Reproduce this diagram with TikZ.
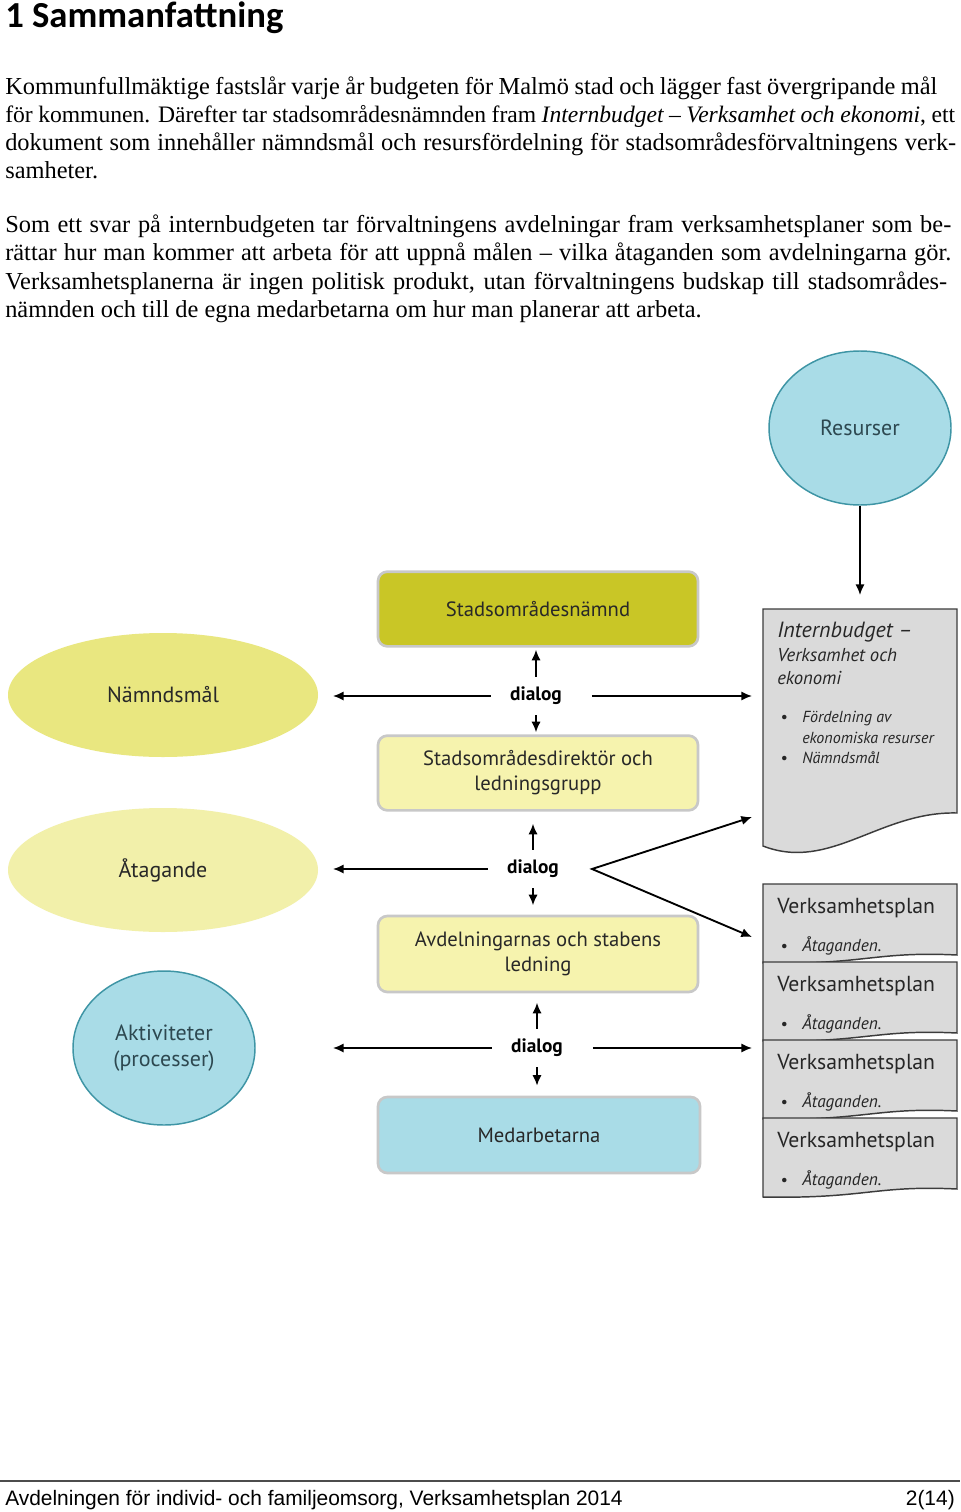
\documentclass[tikz,border=0pt]{standalone}
\usepackage{fontspec}
\setmainfont{Liberation Serif}
\newfontfamily\diafont{PT Sans}
\newfontfamily\headfont{Carlito}
\newfontfamily\footfont{Liberation Sans}
\usepackage{xcolor}
\usepackage{tikz}
\usetikzlibrary{shapes.geometric,arrows.meta}

\definecolor{olivebox}{RGB}{201,198,38}
\definecolor{paleyellow}{RGB}{246,243,174}
\definecolor{goalyellow}{RGB}{233,231,128}
\definecolor{taskyellow}{RGB}{242,240,170}
\definecolor{lightblue}{RGB}{169,220,231}
\definecolor{tealline}{RGB}{62,149,165}
\definecolor{boxgray}{RGB}{200,200,200}
\definecolor{docgray}{RGB}{218,218,218}
\definecolor{docline}{RGB}{60,60,60}
\definecolor{labeltext}{RGB}{40,40,40}
\definecolor{bluetext}{RGB}{45,72,80}

\newcommand\jline[2]{\hbox to #1{#2}}

\begin{document}
\begin{tikzpicture}[x=0.75pt,y=0.75pt,yscale=-1,xscale=1,
  txt/.style={anchor=base west,inner sep=0pt},
  body/.style={txt,font=\fontsize{18.3}{22}\selectfont},
  box/.style={rectangle,rounded corners=7pt,draw=boxgray,line width=2pt,minimum width=240pt,minimum height=56pt,align=center,text=labeltext,font=\diafont\fontsize{15.5}{18.75}\selectfont},
  oval/.style={ellipse,align=center,text=labeltext,font=\diafont\fontsize{16.5}{20}\selectfont},
  dlg/.style={inner sep=0pt,minimum width=67.5pt,minimum height=28.5pt,font=\diafont\bfseries\fontsize{14.5}{17}\selectfont},
  arw/.style={line width=1.4pt,-{Latex[length=8pt,width=7pt]}},
  docs/.style={fill=docgray,draw=docline,line width=1.1pt},
  doctxt/.style={txt,text=black!85,font=\diafont\itshape\fontsize{12}{14}\selectfont}
]
\useasboundingbox (0,0) rectangle (960,1512);
\fill [white] (0,0) rectangle (960,1512);

% heading and text
\draw (5,28) node (head) [txt] {\headfont\bfseries\fontsize{27.5}{32}\selectfont 1 Sammanfattning};
\draw (5,95) node (pa1) [body] {\jline{699pt}{Kommunfullmäktige fastslår varje år budgeten för Malmö stad och lägger fast övergripande mål}};
\draw (5,123) node (pa2) [body,font=\fontsize{17.7}{22}\selectfont] {\jline{712.5pt}{för kommunen. Därefter tar stadsområdesnämnden fram \textit{Internbudget – Verksamhet och ekonomi}, ett}};
\draw (5,151) node (pa3) [body] {\jline{713.25pt}{dokument som innehåller nämndsmål och resursfördelning för stadsområdesförvaltningens verk-}};
\draw (5,179) node (pa4) [body] {samheter.};
\draw (5,233) node (pb1) [body] {\jline{709.5pt}{Som ett svar på internbudgeten tar förvaltningens avdelningar fram verksamhetsplaner som be-}};
\draw (5,261) node (pb2) [body] {\jline{709.5pt}{rättar hur man kommer att arbeta för att uppnå målen – vilka åtaganden som avdelningarna gör.}};
\draw (5,289) node (pb3) [body] {\jline{706.5pt}{Verksamhetsplanerna är ingen politisk produkt, utan förvaltningens budskap till stadsområdes-}};
\draw (5,317) node (pb4) [body] {nämnden och till de egna medarbetarna om hur man planerar att arbeta.};

% middle column
\draw (538,609) node (nmnd) [box,fill=olivebox] {Stadsområdesnämnd};
\draw (538,773) node (ledgrp) [box,fill=paleyellow] {Stadsområdesdirektör och\\ledningsgrupp};
\draw (538,954) node (avdled) [box,fill=paleyellow,minimum height=57pt] {Avdelningarnas och stabens\\ledning};
\draw (539,1135) node (medarb) [box,fill=lightblue,minimum width=241.5pt,minimum height=57pt] {Medarbetarna};

\draw (536,696) node (dlgA) [dlg] {dialog};
\draw (533,869) node (dlgB) [dlg] {dialog};
\draw (537,1048) node (dlgC) [dlg] {dialog};

% left column
\draw (163,695) node (nmndmal) [oval,fill=goalyellow,minimum width=232.5pt,minimum height=93pt] {Nämndsmål};
\draw (163,870) node (atag) [oval,fill=taskyellow,minimum width=232.5pt,minimum height=93pt] {Åtagande};
\draw (164,1048) node (aktiv) [oval,fill=lightblue,draw=tealline,line width=1.1pt,text=bluetext,minimum width=136.5pt,minimum height=115.5pt] {Aktiviteter\\(processer)};

% right column
\draw (860,428) node (res) [oval,fill=lightblue,draw=tealline,line width=1.1pt,text=bluetext,minimum width=136.5pt,minimum height=115.5pt] {Resurser};

\draw [docs] (763,609) -- (957,609) -- (957,813) .. controls (880,811) and (830,872) .. (763,846) -- cycle;
\draw (777,637) node (ibh) [doctxt,font=\diafont\itshape\fontsize{16.5}{19}\selectfont] {Internbudget –};
\draw (777,661) node (ib2) [doctxt,font=\diafont\itshape\fontsize{14}{17}\selectfont] {Verksamhet och};
\draw (777,684) node (ib3) [doctxt,font=\diafont\itshape\fontsize{14}{17}\selectfont] {ekonomi};
\draw (780,722) node (bu1) [doctxt] {•};
\draw (802,722) node (ib4) [doctxt] {Fördelning av};
\draw (802,743) node (ib5) [doctxt] {ekonomiska resurser};
\draw (780,763) node (bu2) [doctxt] {•};
\draw (802,763) node (ib6) [doctxt] {Nämndsmål};

\foreach \y [count=\k] in {884,962,1040,1118} {
  \draw [docs] (763,\y) -- (957,\y) -- (957,\y+71) .. controls (875,\y+67) and (865,\y+81) .. (763,\y+79) -- cycle;
  \draw (777,\y+29) node (vp\k) [txt,text=black!85,font=\diafont\fontsize{16.3}{19}\selectfont] {Verksamhetsplan};
  \draw (780,\y+67) node (vb\k) [doctxt] {•};
  \draw (802,\y+67) node (vt\k) [doctxt,font=\diafont\itshape\fontsize{13}{15}\selectfont] {Åtaganden.};
}

\coordinate (ibtop) at (860,609);
\coordinate (docL) at (752,0);
\coordinate (fanO) at (592,869);
\coordinate (fanU) at (752,817);
\coordinate (fanD) at (752,937);

% connectors
\draw [arw,shorten >=10.5pt] (res) -- (ibtop);
\draw [arw,shorten >=1.5pt] (dlgA.north) -- (dlgA.north |- nmnd.south);
\draw [arw,shorten >=1.5pt] (dlgA.south) -- (dlgA.south |- ledgrp.north);
\draw [arw,shorten >=9pt] (dlgB.north) -- (dlgB.north |- ledgrp.south);
\draw [arw,shorten >=7pt] (dlgB.south) -- (dlgB.south |- avdled.north);
\draw [arw,shorten >=7pt] (dlgC.north) -- (dlgC.north |- avdled.south);
\draw [arw,shorten >=7.5pt] (dlgC.south) -- (dlgC.south |- medarb.north);
\draw [arw,shorten >=11pt] (dlgA.west) -- (dlgA.west -| nmndmal.east);
\draw [arw,shorten >=11pt] (dlgB.west) -- (dlgB.west -| atag.east);
\draw [arw,shorten >=11pt] (dlgC.west) -- (dlgC.west -| atag.east);
\draw [arw,shorten <=8pt] (dlgA.east) -- (dlgA.east -| docL);
\draw [arw,shorten <=8pt] (dlgC.east) -- (dlgC.east -| docL);
\draw [line width=1.4pt,{Latex[length=8pt,width=7pt]}-{Latex[length=8pt,width=7pt]}] (fanU) -- (fanO) -- (fanD);

% footer
\draw [line width=1pt,black!70] (0,1481) -- (960,1481);
\draw (5,1505) node (foot) [txt,font=\footfont\fontsize{15.7}{18}\selectfont] {Avdelningen för individ- och familjeomsorg, Verksamhetsplan 2014};
\draw (955,1505) node (page) [txt,anchor=base east,font=\footfont\fontsize{15.7}{18}\selectfont] {2(14)};
\end{tikzpicture}
\end{document}
